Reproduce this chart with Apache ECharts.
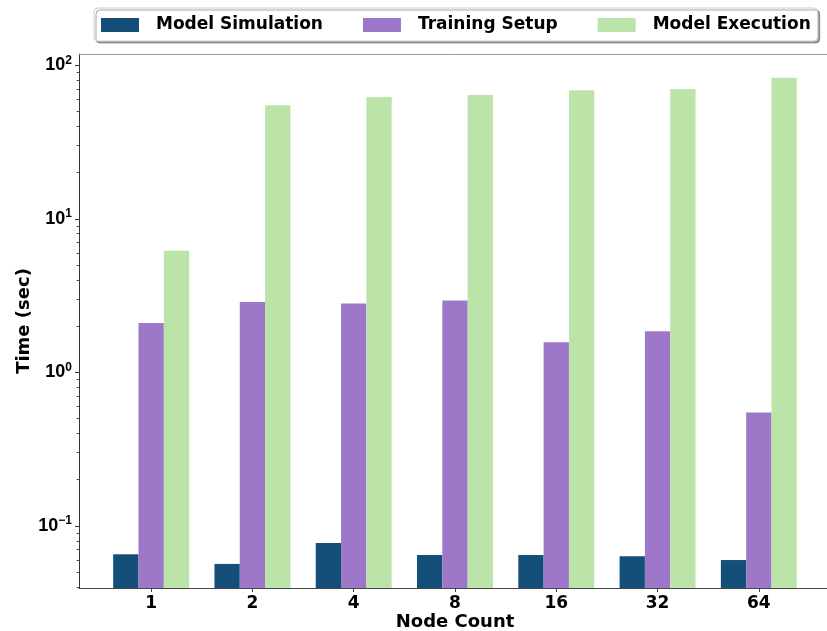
<!DOCTYPE html>
<html>
<head>
<meta charset="utf-8">
<script src="https://cdn.jsdelivr.net/npm/echarts@6/dist/echarts.min.js"></script>
<style>
  html, body { margin: 0; padding: 0; background: #ffffff; }
  #chart { width: 827px; height: 631px; }
</style>
</head>
<body>
<div id="chart"></div>
<script>
// Node counts on the x axis
const nodeCounts = ['1', '2', '4', '8', '16', '32', '64'];

// Time per phase (seconds)
const modelSimulation = [0.0654, 0.0566, 0.0775, 0.0647, 0.0647, 0.0635, 0.0600];
const trainingSetup   = [2.10, 2.87, 2.81, 2.94, 1.57, 1.855, 0.548];
const modelExecution  = [6.19, 54.8, 62.1, 63.9, 68.6, 70.0, 82.9];

const seriesNames = ['Model Simulation', 'Training Setup', 'Model Execution'];
const seriesColors = ['#134f79', '#9d77c8', '#bde4a8'];

// Decade labels on the log axis
const yTickLabels = [0.1, 1, 10, 100];

const Y_MIN = 0.03945;
const Y_MAX = 118.3;
const X_MIN = -0.7125;
const X_MAX = 6.7125;
const BAR_W = 0.25;

// minor ticks at 2..9 x 10^n inside the visible range
const minorTicks = [];
for (let e = -2; e <= 2; e++) {
  for (let m = 2; m <= 9; m++) {
    const v = m * Math.pow(10, e);
    if (v >= Y_MIN && v <= Y_MAX) minorTicks.push(v);
  }
}

const FONT = '"DejaVu Sans", sans-serif';

function barRenderer(slot, color) {
  return function (params, api) {
    const i = api.value(0);
    const v = api.value(1);
    const cx = i + (slot - 1) * BAR_W;
    const p0 = api.coord([cx - BAR_W / 2, v]);
    const p1 = api.coord([cx + BAR_W / 2, v]);
    const cs = params.coordSys;
    const base = cs.y + cs.height;
    return {
      type: 'rect',
      shape: { x: p0[0], y: p0[1], width: p1[0] - p0[0], height: base - p0[1] },
      style: { fill: color }
    };
  };
}

const seriesData = [modelSimulation, trainingSetup, modelExecution];

const chart = echarts.init(document.getElementById('chart'), null, { renderer: 'canvas' });

chart.setOption({
  animation: false,
  backgroundColor: '#ffffff',
  grid: { left: 79, top: 54, width: 752, height: 534, containLabel: false, outerBoundsMode: 'none' },
  legend: {
    data: seriesNames,
    left: 94,
    top: 8,
    icon: 'rect',
    itemWidth: 38,
    itemHeight: 14,
    itemGap: 40,
    selectedMode: false,
    padding: [7, 7, 6, 7],
    backgroundColor: '#ffffff',
    borderColor: '#cccccc',
    borderWidth: 1,
    borderRadius: 4,
    shadowColor: 'rgba(0,0,0,0.35)',
    shadowBlur: 0,
    shadowOffsetX: 2,
    shadowOffsetY: 2,
    textStyle: {
      fontFamily: FONT, fontWeight: 'bold', fontSize: 17, color: '#000',
      padding: [0, 0, 0, 12], lineHeight: 20
    }
  },
  xAxis: [
    {
      type: 'value',
      min: X_MIN, max: X_MAX,
      position: 'bottom',
      name: 'Node Count',
      nameLocation: 'middle',
      nameGap: 25,
      nameMoveOverlap: false,
      nameTextStyle: { fontFamily: FONT, fontWeight: 'bold', fontSize: 18, color: '#000' },
      splitLine: { show: false },
      axisLine: { show: true, onZero: false, lineStyle: { color: '#444', width: 1 } },
      axisTick: { show: true, length: 4, lineStyle: { color: '#444' }, customValues: nodeCounts.map((_, i) => i) },
      axisLabel: {
        customValues: nodeCounts.map((_, i) => i),
        formatter: (v) => nodeCounts[Math.round(v)],
        fontFamily: FONT, fontWeight: 'bold', fontSize: 17, color: '#000', margin: 7
      }
    },
    {
      type: 'value',
      min: X_MIN, max: X_MAX,
      position: 'top',
      splitLine: { show: false },
      axisLine: { show: true, onZero: false, lineStyle: { color: '#999', width: 1 } },
      axisTick: { show: false },
      axisLabel: { show: false }
    }
  ],
  yAxis: [
    {
      type: 'log',
      logBase: 10,
      min: Y_MIN, max: Y_MAX,
      position: 'left',
      name: 'Time (sec)',
      nameLocation: 'middle',
      nameGap: 46,
      nameMoveOverlap: false,
      nameTextStyle: { fontFamily: FONT, fontWeight: 'bold', fontSize: 18, color: '#000' },
      splitLine: { show: false },
      axisLine: { show: true, onZero: false, lineStyle: { color: '#333', width: 1 } },
      axisTick: { show: true, length: 4, lineStyle: { color: '#333' }, customValues: yTickLabels },
      axisLabel: {
        customValues: yTickLabels,
        margin: 7,
        formatter: (v) => {
          const e = Math.round(Math.log10(v));
          return '{b|10}{e|' + (e < 0 ? '\u2212' + (-e) : String(e)) + '}';
        },
        rich: {
          b: { fontFamily: '"Liberation Sans", Arial, sans-serif', fontWeight: 'bold', fontSize: 18, color: '#000', lineHeight: 22 },
          e: { fontFamily: '"Liberation Sans", Arial, sans-serif', fontWeight: 'bold', fontSize: 12, color: '#000', verticalAlign: 'top', lineHeight: 12 }
        }
      }
    },
    {
      type: 'log',
      logBase: 10,
      min: Y_MIN, max: Y_MAX,
      position: 'left',
      splitLine: { show: false },
      axisLine: { show: false, onZero: false },
      axisTick: { show: true, length: 2.5, lineStyle: { color: '#555' }, customValues: minorTicks },
      axisLabel: { show: false }
    }
  ],
  series: seriesNames.map((name, k) => ({
    name: name,
    type: 'custom',
    xAxisIndex: 0,
    yAxisIndex: 0,
    itemStyle: { color: seriesColors[k] },
    renderItem: barRenderer(k, seriesColors[k]),
    encode: { x: 0, y: 1 },
    data: nodeCounts.map((_, i) => [i, seriesData[k][i]])
  }))
});
</script>
</body>
</html>
